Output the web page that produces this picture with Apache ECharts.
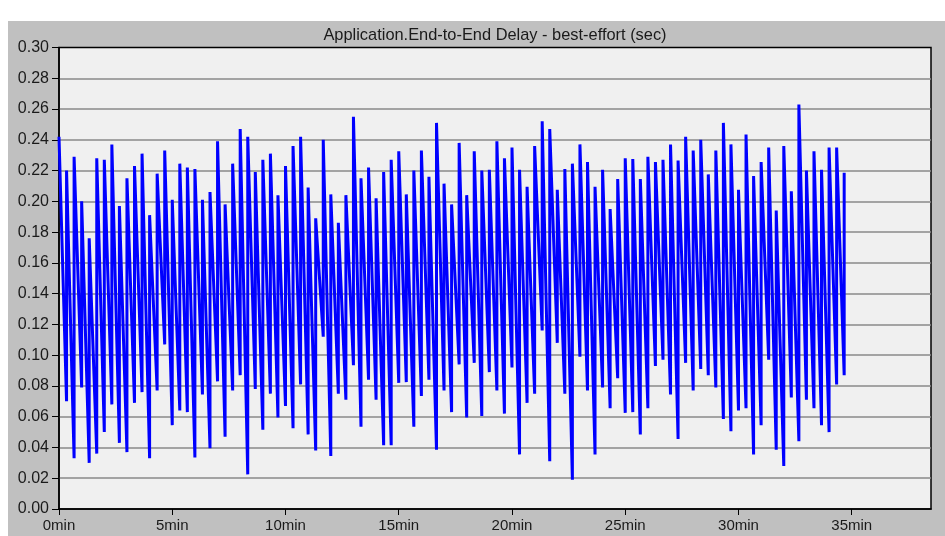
<!DOCTYPE html>
<html>
<head>
<meta charset="utf-8">
<script src="https://cdn.jsdelivr.net/npm/echarts@6/dist/echarts.min.js"></script>
<style>
  html, body { margin: 0; padding: 0; background: #ffffff; }
  #chart { width: 945px; height: 536px; }
</style>
</head>
<body>
<div id="chart"></div>
<script>
// End-to-end delay samples, one statistic every 20 seconds.
// Each sample after the first is drawn as its low value followed by its high value.
const SAMPLE_INTERVAL_MIN = 1 / 3;

const delayHigh = [
  0.242, 0.220, 0.229, 0.200, 0.176, 0.228, 0.227, 0.237, 0.197, 0.215,
  0.223, 0.231, 0.191, 0.218, 0.233, 0.201, 0.2245, 0.222, 0.221, 0.201,
  0.206, 0.239, 0.198, 0.2245, 0.247, 0.242, 0.219, 0.227, 0.231, 0.204,
  0.223, 0.236, 0.242, 0.209, 0.189, 0.240, 0.2045, 0.186, 0.204, 0.255,
  0.215, 0.222, 0.202, 0.219, 0.227, 0.2325, 0.2045, 0.220, 0.233, 0.216,
  0.251, 0.2115, 0.198, 0.238, 0.204, 0.2325, 0.220, 0.2205, 0.239, 0.228,
  0.235, 0.2205, 0.2095, 0.236, 0.252, 0.247, 0.2075, 0.221, 0.2245, 0.237,
  0.2255, 0.2095, 0.2205, 0.195, 0.2145, 0.228, 0.2275, 0.2145, 0.229, 0.2255,
  0.227, 0.237, 0.2265, 0.242, 0.233, 0.240, 0.2175, 0.233, 0.251, 0.237,
  0.2075, 0.2435, 0.2165, 0.2255, 0.235, 0.194, 0.236, 0.2065, 0.263, 0.220,
  0.2325, 0.2205, 0.235, 0.235, 0.2185
];

const delayLow = [
  0.070, 0.033, 0.079, 0.030, 0.036, 0.050, 0.068, 0.043, 0.037, 0.069,
  0.076, 0.033, 0.077, 0.107, 0.0545, 0.064, 0.063, 0.0335, 0.0745, 0.0395,
  0.083, 0.047, 0.077, 0.087, 0.0225, 0.078, 0.0515, 0.075, 0.0595, 0.067,
  0.0525, 0.081, 0.0485, 0.038, 0.112, 0.0345, 0.075, 0.071, 0.0935, 0.0535,
  0.084, 0.071, 0.0415, 0.0415, 0.082, 0.0825, 0.0535, 0.0735, 0.084, 0.0385,
  0.077, 0.063, 0.094, 0.0595, 0.095, 0.0605, 0.089, 0.077, 0.062, 0.092,
  0.0355, 0.069, 0.075, 0.116, 0.031, 0.108, 0.075, 0.019, 0.099, 0.077,
  0.0355, 0.079, 0.0655, 0.085, 0.0625, 0.063, 0.0485, 0.0655, 0.093, 0.097,
  0.0745, 0.0455, 0.095, 0.077, 0.091, 0.087, 0.079, 0.0585, 0.0505, 0.064,
  0.0655, 0.0355, 0.0545, 0.097, 0.0385, 0.028, 0.0725, 0.044, 0.071, 0.0655,
  0.0545, 0.050, 0.081, 0.087
];

const xTickMinutes = [0, 5, 10, 15, 20, 25, 30, 35];
const yTicks = [0.00, 0.02, 0.04, 0.06, 0.08, 0.10, 0.12, 0.14, 0.16, 0.18, 0.20, 0.22, 0.24, 0.26, 0.28, 0.30];

const titleText = 'Application.End-to-End Delay - best-effort (sec)';

// Build the polyline: first high, then (low, high) pairs at each later sample time.
const points = [[0, delayHigh[0]]];
for (let i = 1; i < delayHigh.length; i++) {
  const t = i * SAMPLE_INTERVAL_MIN;
  points.push([t, delayLow[i - 1]]);
  points.push([t, delayHigh[i]]);
}

const FONT = '"Liberation Sans", Arial, sans-serif';
const chart = echarts.init(document.getElementById('chart'), null, { renderer: 'canvas' });

chart.setOption({
  animation: false,
  backgroundColor: '#ffffff',
  graphic: [
    {
      type: 'rect', z: -10, silent: true,
      shape: { x: 8, y: 21, width: 937, height: 515 },
      style: { fill: '#c0c0c0' }
    },
    {
      type: 'text', z: 10, silent: true,
      x: 495, y: 35,
      style: {
        text: titleText, fill: '#1a1a1a',
        font: '16.4px ' + FONT,
        textAlign: 'center', textVerticalAlign: 'middle'
      }
    }
  ],
  grid: {
    left: 59, top: 47.5, right: 14, bottom: 27,
    show: true, backgroundColor: '#f0f0f0',
    borderColor: '#000000', borderWidth: 1.5
  },
  xAxis: {
    type: 'value', min: 0, max: 38.5, interval: 5,
    axisLine: { show: true, onZero: false, lineStyle: { color: '#000', width: 1.5 } },
    axisTick: { show: true, length: 6, lineStyle: { color: '#000', width: 1 }, customValues: xTickMinutes },
    axisLabel: {
      customValues: xTickMinutes,
      formatter: v => v + 'min',
      color: '#1a1a1a', fontFamily: FONT, fontSize: 15, margin: 9
    },
    splitLine: { show: false }
  },
  yAxis: {
    type: 'value', min: 0, max: 0.3, interval: 0.02,
    axisLine: { show: true, lineStyle: { color: '#000', width: 1.5 } },
    axisTick: { show: true, length: 7, lineStyle: { color: '#000', width: 1 }, customValues: yTicks },
    axisLabel: {
      customValues: yTicks,
      formatter: v => v.toFixed(2),
      color: '#1a1a1a', fontFamily: FONT, fontSize: 16, margin: 10
    },
    splitLine: {
      show: true, showMinLine: false, showMaxLine: false,
      lineStyle: { color: '#8a8a8a', width: 1.5 }
    }
  },
  series: [{
    type: 'line',
    data: points,
    symbol: 'none',
    lineStyle: { color: '#0000ff', width: 3, cap: 'butt', join: 'miter' },
    clip: true
  }]
});
</script>
</body>
</html>
